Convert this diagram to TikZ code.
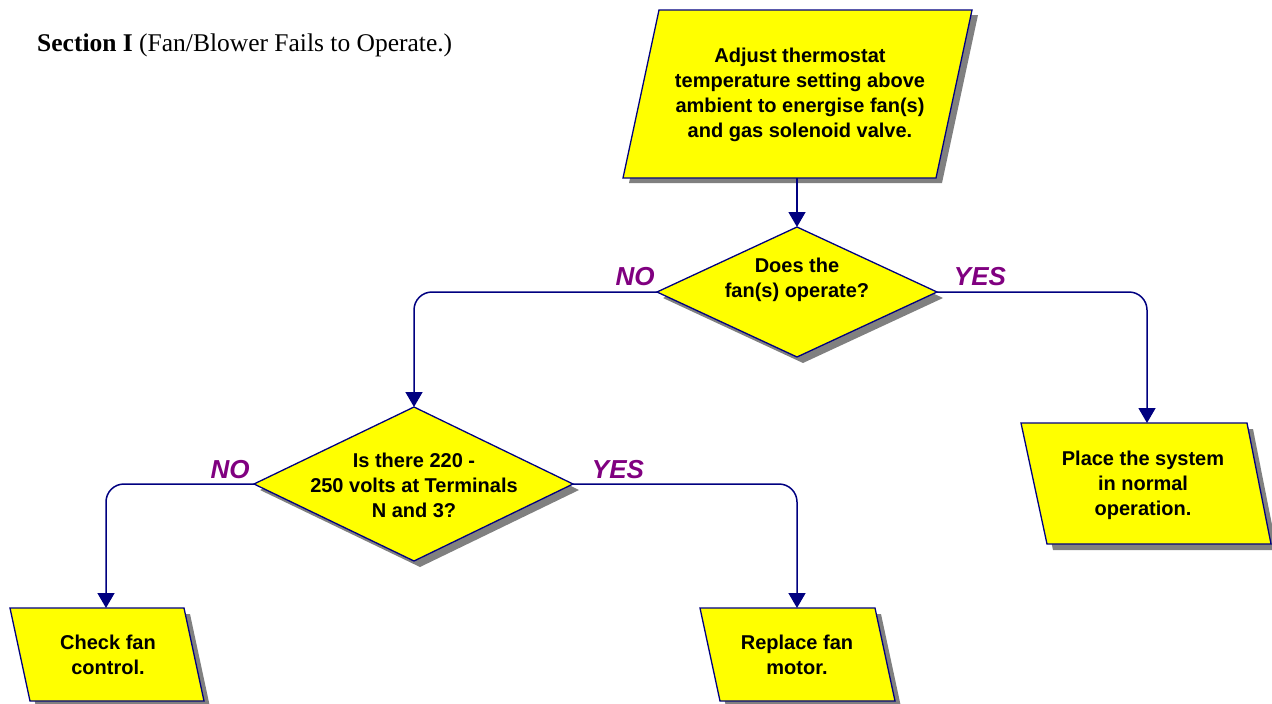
\documentclass[tikz,border=0pt]{standalone}
\usepackage{fontspec}
\setmainfont{Liberation Serif}
\newfontfamily\boxfont{Liberation Sans}
\usetikzlibrary{arrows.meta}
\definecolor{navyline}{RGB}{0,0,128}
\definecolor{boxfill}{RGB}{255,255,0}
\definecolor{labelpurple}{RGB}{128,0,128}
\definecolor{shadowgray}{RGB}{128,128,128}

\begin{document}
\begin{tikzpicture}[x=1pt,y=-1pt,
  shapebox/.style={fill=boxfill,draw=navyline,line width=1.3pt,line join=miter},
  shadebox/.style={fill=shadowgray},
  boxtext/.style={font=\boxfont\bfseries\fontsize{20}{25}\selectfont,align=center,text=black},
  flow/.style={draw=navyline,line width=1.5pt,rounded corners=18pt,-{Triangle[width=17pt,length=15pt]}},
  answer/.style={font=\boxfont\bfseries\itshape\fontsize{26}{30}\selectfont,text=labelpurple}]
\useasboundingbox (0,0) rectangle (1272,704);

% heading
\node[anchor=base west,inner sep=0pt] (title) at (37,51)
  {\fontsize{25.5}{30}\selectfont\textbf{Section I} (Fan/Blower Fails to Operate.)};

% start: adjust thermostat
\fill[shadebox] (665,15) -- (978,15) -- (942,183) -- (629,183) -- cycle;
\filldraw[shapebox] (659,10) -- (972,10) -- (936,178) -- (623,178) -- cycle;
\node[boxtext] (adjust) at (800,95) {Adjust thermostat\\temperature setting above\\ambient to energise fan(s)\\and gas solenoid valve.};
\coordinate (adjust-s) at (797,178);

% decision 1
\fill[shadebox] (803,233) -- (943,298) -- (803,363) -- (663,298) -- cycle;
\filldraw[shapebox] (797,227) -- (937,292) -- (797,357) -- (657,292) -- cycle;
\node[boxtext] (fanq) at (797,280) {Does the\\fan(s) operate?};
\coordinate (fanq-n) at (797,227);
\coordinate (fanq-w) at (657,292);
\coordinate (fanq-e) at (937,292);

% decision 2
\fill[shadebox] (420,413) -- (579,490) -- (420,567) -- (260,490) -- cycle;
\filldraw[shapebox] (414,407) -- (573,484) -- (414,561) -- (254,484) -- cycle;
\node[boxtext] (voltq) at (414,485) {Is there 220 -\\250 volts at Terminals\\N and 3?};
\coordinate (voltq-n) at (414,407);
\coordinate (voltq-w) at (254,484);
\coordinate (voltq-e) at (573,484);

% outcome: normal operation
\fill[shadebox] (1027,429) -- (1253,429) -- (1277,550) -- (1053,550) -- cycle;
\filldraw[shapebox] (1021,423) -- (1247,423) -- (1271,544) -- (1047,544) -- cycle;
\node[boxtext] (place) at (1143,485) {Place the system\\in normal\\operation.};
\coordinate (place-n) at (1147,423);

% outcome: check fan control
\fill[shadebox] (16,614) -- (190,614) -- (210,707) -- (36,707) -- cycle;
\filldraw[shapebox] (10,608) -- (184,608) -- (204,701) -- (30,701) -- cycle;
\node[boxtext] (check) at (108,655) {Check fan\\control.};
\coordinate (check-n) at (106,608);

% outcome: replace fan motor
\fill[shadebox] (706,614) -- (881,614) -- (901,707) -- (726,707) -- cycle;
\filldraw[shapebox] (700,608) -- (875,608) -- (895,701) -- (720,701) -- cycle;
\node[boxtext] (replace) at (797,655) {Replace fan\\motor.};
\coordinate (replace-n) at (797,608);

% connectors
\draw[flow] (adjust-s) -- (fanq-n);
\draw[flow] (fanq-w) -| (voltq-n);
\draw[flow] (fanq-e) -| (place-n);
\draw[flow] (voltq-w) -| (check-n);
\draw[flow] (voltq-e) -| (replace-n);

% branch labels
\node[answer] (no1) at (635,277) {NO};
\node[answer] (yes1) at (980,277) {YES};
\node[answer] (no2) at (230,470) {NO};
\node[answer] (yes2) at (618,470) {YES};
\end{tikzpicture}
\end{document}
